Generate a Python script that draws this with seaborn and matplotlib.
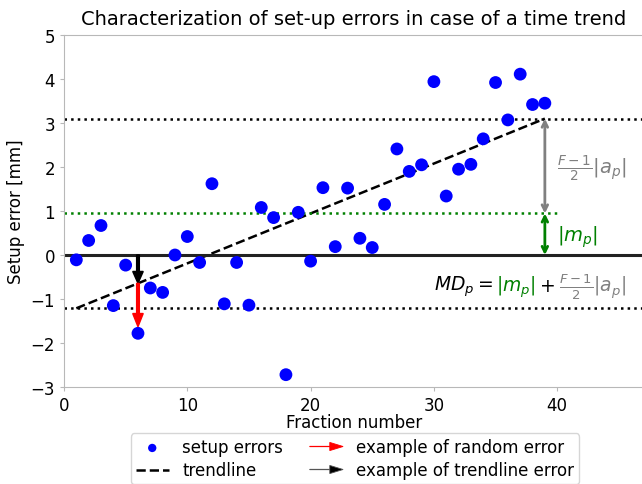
import numpy as np
import matplotlib
matplotlib.use("Agg")
import matplotlib.pyplot as plt
import matplotlib.patches as mpatches
from matplotlib.legend_handler import HandlerPatch
import seaborn as sns
import pandas as pd

# Data
fractions = list(range(1, 40))
setup_errors = [-0.11, 0.33, 0.67, -1.15, -0.23, -1.78, -0.75, -0.85, 0.00, 0.42,
                -0.17, 1.62, -1.11, -0.17, -1.14, 1.08, 0.85, -2.72, 0.97, -0.14,
                1.53, 0.19, 1.52, 0.38, 0.17, 1.15, 2.41, 1.90, 2.05, 3.94,
                1.34, 1.95, 2.06, 2.64, 3.92, 3.07, 4.11, 3.42, 3.45]
example_fraction = 6
x_ticks = [0, 10, 20, 30, 40]
y_ticks = [-3, -2, -1, 0, 1, 2, 3, 4, 5]

df = pd.DataFrame({"fraction": fractions, "error": setup_errors})

# trend fit
slope, intercept = np.polyfit(df["fraction"], df["error"], 1)
m_p = df["error"].mean()
x0, x1 = df["fraction"].min(), df["fraction"].max()
trend_x = np.array([x0, x1])
trend_y = slope * trend_x + intercept
upper = trend_y[1]
lower = trend_y[0]

sns.set_style("ticks", {"axes.edgecolor": ".72", "text.color": "black",
                        "axes.labelcolor": "black"})
plt.rcParams["font.family"] = ["DejaVu Sans"]

fig = plt.figure(figsize=(6.42, 4.85), dpi=100)
ax = fig.add_axes([64 / 642, 1 - 388 / 485, (643.5 - 64) / 642, (388 - 36) / 485])

sns.scatterplot(data=df, x="fraction", y="error", ax=ax, color="blue", s=85,
                edgecolor="none", zorder=5, label="setup errors")
sns.lineplot(x=trend_x, y=trend_y, ax=ax, color="black", linestyle="--", lw=1.8,
             label="trendline")

ax.axhline(0, color="#222222", lw=2.2, zorder=2)
ax.axhline(upper, color="black", ls=":", lw=1.8, zorder=2)
ax.axhline(lower, color="black", ls=":", lw=1.8, zorder=2)
ax.hlines(m_p, 0, 40, color="green", ls=":", lw=1.8, zorder=2)

# example arrows
ex_err = df.loc[df["fraction"] == example_fraction, "error"].iloc[0]
ex_trend = slope * example_fraction + intercept
ax.arrow(example_fraction, 0, 0, ex_trend, length_includes_head=True,
         width=0.22, head_width=0.85, head_length=0.27, color="black", zorder=6)
ax.arrow(example_fraction, ex_trend, 0, (ex_err + 0.15) - ex_trend, length_includes_head=True,
         width=0.22, head_width=0.85, head_length=0.3, color="red", zorder=6)

# double arrows at the end of the trend
ax.annotate("", xy=(x1, upper), xytext=(x1, m_p),
            arrowprops=dict(arrowstyle="<->", color="gray", lw=2, shrinkA=0, shrinkB=0))
ax.annotate("", xy=(x1, m_p), xytext=(x1, 0),
            arrowprops=dict(arrowstyle="<->", color="green", lw=2, shrinkA=0, shrinkB=0))

ax.text(x1 + 1.0, (upper + m_p) / 2 - 0.05, r"$\frac{F-1}{2}|a_p|$", color="gray",
        fontsize=14, va="center", ha="left")
ax.text(x1 + 1.0, m_p / 2 - 0.05, r"$|m_p|$", color="green",
        fontsize=14, va="center", ha="left")

fs = 13.5
t1 = ax.text(30.0, -0.7, r"$MD_p=$", color="black", fontsize=fs, va="center", ha="left")
t2 = ax.annotate(r"$|m_p|$", xy=(1, 0.5), xycoords=t1, xytext=(2, 0),
                 textcoords="offset points", color="green", fontsize=fs, va="center")
t3 = ax.annotate(r"$+$", xy=(1, 0.5), xycoords=t2, xytext=(3, 0),
                 textcoords="offset points", color="black", fontsize=fs, va="center")
t4 = ax.annotate(r"$\frac{F-1}{2}|a_p|$", xy=(1, 0.5), xycoords=t3, xytext=(3, 0),
                 textcoords="offset points", color="gray", fontsize=fs, va="center")

ax.set_xlim(0, 47)
ax.set_ylim(-3, 5)
ax.set_xticks(x_ticks)
ax.set_yticks(y_ticks)
ax.tick_params(colors=".72", labelcolor="black", labelsize=12, length=3)
ax.set_xlabel("Fraction number", fontsize=12, labelpad=-1)
ax.set_ylabel("Setup error [mm]", fontsize=12)
ax.set_title("Characterization of set-up errors in case of a time trend", fontsize=14, pad=8)


def make_legend_arrow(legend, orig_handle, xdescent, ydescent, width, height, fontsize):
    return mpatches.FancyArrow(0, 0.5 * height, width, 0, length_includes_head=True,
                               head_width=0.7 * height, head_length=0.4 * width, width=0.3)


red_arrow = mpatches.FancyArrow(0, 0, 1, 0, color="red", lw=0.6)
black_arrow = mpatches.FancyArrow(0, 0, 1, 0, facecolor="black", edgecolor="#555555", lw=0.6)
handles, labels = ax.get_legend_handles_labels()
handles += [red_arrow, black_arrow]
labels += ["example of random error", "example of trendline error"]
ax.legend(handles, labels, ncol=2, loc="upper center", bbox_to_anchor=(355 / 642, 1 - 426 / 485),
          bbox_transform=fig.transFigure, fontsize=12, markerscale=0.65, frameon=True,
          edgecolor=".8", labelspacing=0.3, borderpad=0.3, columnspacing=1.6,
          handler_map={mpatches.FancyArrow: HandlerPatch(patch_func=make_legend_arrow)})

fig.savefig("out.png", dpi=100)
